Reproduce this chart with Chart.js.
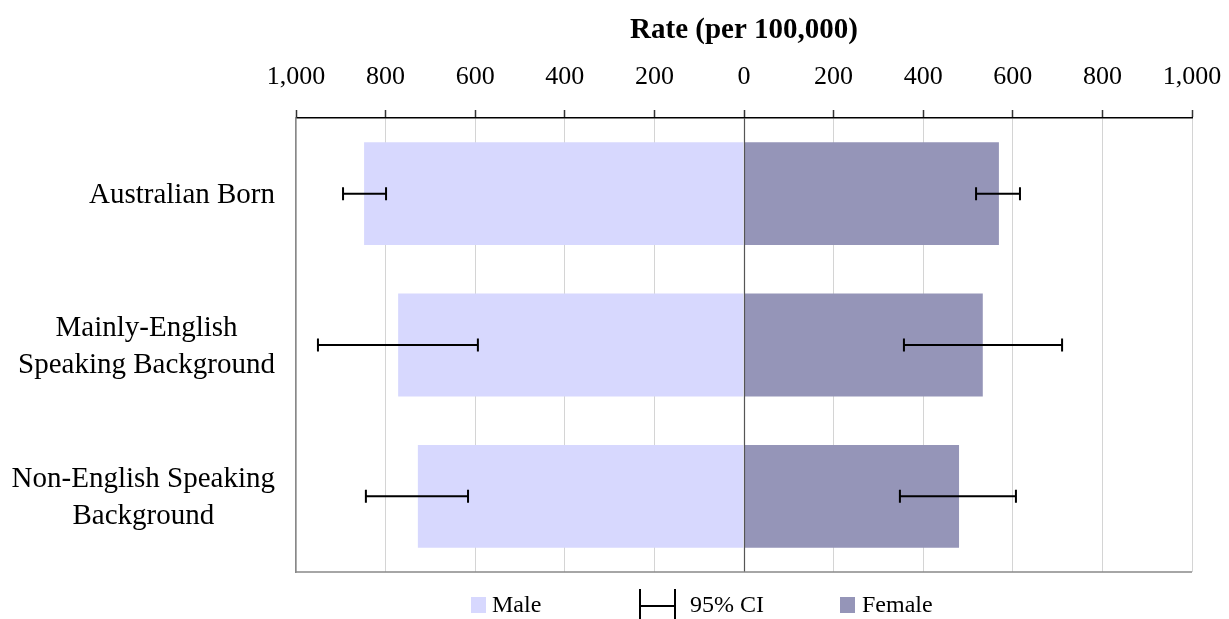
<!DOCTYPE html>
<html>
<head>
<meta charset="utf-8">
<script src="https://cdn.jsdelivr.net/npm/chart.js@4"></script>
<style>
  html, body { margin: 0; padding: 0; background: #fff; }
  #rateChart { display: block; }
</style>
</head>
<body>
<canvas id="rateChart" width="1229" height="619"></canvas>
<script>
// Categories, top to bottom
const categories = [
    'Australian Born',
    ['Mainly-English', 'Speaking Background'],
    ['Non-English Speaking', 'Background']
];

// Rate per 100,000
const maleRate = [848, 772, 728];
const femaleRate = [569, 533, 480];

// 95% confidence intervals
const maleCILow = [799, 594, 616];
const maleCIHigh = [895, 951, 844];
const femaleCILow = [518, 357, 348];
const femaleCIHigh = [616, 710, 607];

const FONT = "'Liberation Serif', serif";
const maleColor = '#d7d8fe';
const femaleColor = '#9595b8';

function drawCI(ctx, x1, x2, yc) {
    const cap = 6.5;
    ctx.beginPath();
    ctx.moveTo(x1, yc);
    ctx.lineTo(x2, yc);
    ctx.moveTo(x1, yc - cap);
    ctx.lineTo(x1, yc + cap);
    ctx.moveTo(x2, yc - cap);
    ctx.lineTo(x2, yc + cap);
    ctx.stroke();
}

// zero line, bottom border, error bars, category labels and legend
const extrasPlugin = {
    id: 'extras',
    afterDatasetsDraw(chart) {
        const { ctx, chartArea, scales: { x, y } } = chart;
        ctx.save();

        const x0 = Math.round(x.getPixelForValue(0)) + 0.5;
        ctx.strokeStyle = '#555';
        ctx.lineWidth = 1.2;
        ctx.beginPath();
        ctx.moveTo(x0, chartArea.top);
        ctx.lineTo(x0, chartArea.bottom);
        ctx.stroke();

        ctx.strokeStyle = '#888';
        ctx.lineWidth = 1.5;
        ctx.beginPath();
        ctx.moveTo(chartArea.left, chartArea.bottom);
        ctx.lineTo(chartArea.right, chartArea.bottom);
        ctx.stroke();

        ctx.strokeStyle = '#000';
        ctx.lineWidth = 2;
        categories.forEach((c, i) => {
            const yc = y.getPixelForValue(i);
            drawCI(ctx, x.getPixelForValue(-maleCIHigh[i]), x.getPixelForValue(-maleCILow[i]), yc);
            drawCI(ctx, x.getPixelForValue(femaleCILow[i]), x.getPixelForValue(femaleCIHigh[i]), yc);
        });
        ctx.restore();
    },
    afterDraw(chart) {
        const { ctx, chartArea, scales: { x, y } } = chart;
        ctx.save();

        // category labels: block right-aligned, lines centred in the block
        ctx.font = '29px ' + FONT;
        ctx.fillStyle = '#000';
        ctx.textBaseline = 'middle';
        ctx.textAlign = 'center';
        const lineH = 37;
        const right = chartArea.left - 21;
        categories.forEach((c, i) => {
            const lines = Array.isArray(c) ? c : [c];
            const widest = Math.max(...lines.map(l => ctx.measureText(l).width));
            const yc = y.getPixelForValue(i) + 2;
            lines.forEach((l, k) => {
                ctx.fillText(l, right - widest / 2, yc + (k - (lines.length - 1) / 2) * lineH);
            });
        });

        // legend
        const cx = x.getPixelForValue(0);
        const ly = 606;
        ctx.font = '24px ' + FONT;
        ctx.textAlign = 'left';

        ctx.fillStyle = maleColor;
        ctx.fillRect(cx - 273, ly - 9, 15, 16);
        ctx.fillStyle = '#000';
        ctx.fillText('Male', cx - 252, ly);

        ctx.strokeStyle = '#000';
        ctx.lineWidth = 2;
        ctx.beginPath();
        ctx.moveTo(cx - 104, ly - 17);
        ctx.lineTo(cx - 104, ly + 14);
        ctx.moveTo(cx - 69, ly - 17);
        ctx.lineTo(cx - 69, ly + 14);
        ctx.moveTo(cx - 104, ly);
        ctx.lineTo(cx - 69, ly);
        ctx.stroke();
        ctx.fillText('95% CI', cx - 54, ly);

        ctx.fillStyle = femaleColor;
        ctx.fillRect(cx + 96, ly - 9, 15, 16);
        ctx.fillStyle = '#000';
        ctx.fillText('Female', cx + 118, ly);
        ctx.restore();
    }
};

const data = {
    labels: categories,
    datasets: [{
        label: 'Male',
        data: maleRate.map(v => -v),
        backgroundColor: maleColor,
        grouped: false,
        barPercentage: 0.68,
        categoryPercentage: 1.0
    }, {
        label: 'Female',
        data: femaleRate,
        backgroundColor: femaleColor,
        grouped: false,
        barPercentage: 0.68,
        categoryPercentage: 1.0
    }]
};

const config = {
    type: 'bar',
    data: data,
    options: {
        indexAxis: 'y',
        responsive: false,
        animation: false,
        devicePixelRatio: 1,
        layout: {
            padding: { top: 0, bottom: 47, left: 0, right: 37 }
        },
        scales: {
            x: {
                position: 'top',
                min: -1000,
                max: 1000,
                afterFit(scale) {
                    scale.height = 118;
                    scale.paddingLeft = 0;
                    scale.paddingRight = 0;
                },
                ticks: {
                    stepSize: 200,
                    padding: 17,
                    color: '#000',
                    font: { family: FONT, size: 26 },
                    callback: v => Math.abs(v).toLocaleString('en-US')
                },
                grid: {
                    color: '#d4d4d4',
                    lineWidth: 1,
                    tickLength: 8,
                    tickColor: '#333',
                    tickWidth: 1.5
                },
                border: { display: true, color: '#000', width: 1.5 },
                title: {
                    display: true,
                    text: 'Rate (per 100,000)',
                    color: '#000',
                    padding: { top: 13, bottom: 0 },
                    font: { family: FONT, size: 29, weight: 'bold' }
                }
            },
            y: {
                afterFit(scale) { scale.width = 296; },
                ticks: { display: false },
                grid: { drawOnChartArea: false, drawTicks: false },
                border: { display: true, color: '#888', width: 1.5 }
            }
        },
        plugins: {
            legend: { display: false },
            tooltip: { enabled: false }
        }
    },
    plugins: [extrasPlugin]
};

const rateChart = new Chart(document.getElementById('rateChart'), config);
</script>
</body>
</html>
